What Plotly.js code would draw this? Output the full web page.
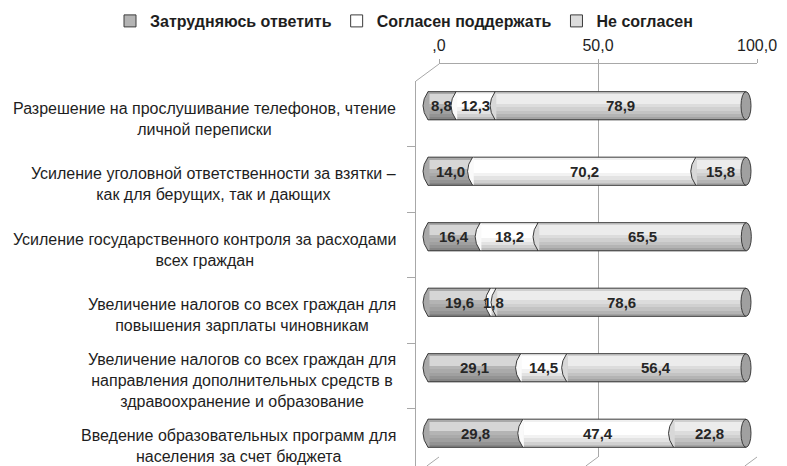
<!DOCTYPE html>
<html>
<head>
<meta charset="utf-8">
<script src="https://cdn.plot.ly/plotly-3.0.1.min.js"></script>
<style>html,body{margin:0;padding:0;background:#fff;}#chart{width:787px;height:466px;}</style>
</head>
<body>
<div id="chart"></div>
<script>
// ---- data (top row first) ----
var categories = [
  "Разрешение на прослушивание телефонов, чтение<br>личной переписки",
  "Усиление уголовной ответственности за взятки –<br>как для берущих, так и дающих",
  "Усиление государственного контроля за расходами<br>всех граждан",
  "Увеличение налогов со всех граждан для<br>повышения зарплаты чиновникам",
  "Увеличение налогов со всех граждан для<br>направления дополнительных средств в<br>здравоохранение и образование",
  "Введение образовательных программ для<br>населения за счет бюджета"
];
var seriesNames = ["Затрудняюсь ответить", "Согласен поддержать", "Не согласен"];
var hard    = [8.8, 14.0, 16.4, 19.6, 29.1, 29.8];
var agree   = [12.3, 70.2, 18.2, 1.8, 14.5, 47.4];
var disagree= [78.9, 15.8, 65.5, 78.6, 56.4, 22.8];
var tickVals = [0, 50, 100];
var tickText = [",0", "50,0", "100,0"];

// ---- style ----
var W = 787, H = 466;
var colors = ["#b4b4b4", "#ffffff", "#dcdcdc"];
var edge = "#3c3c3c";
var wallColor = "#a8a8a8";
var font = "Liberation Sans, Arial, sans-serif";
var barW = 0.43, halfPx = 14;
var bar0 = 428, bar100 = 746, pad = 2;
var ppu = (bar100 - bar0) / 100;

var series = [hard, agree, disagree];
var idx = categories.map(function(_, i){ return i; });
function fmt(v){ return v.toFixed(1).replace(".", ","); }

var traces = [];
var bases = categories.map(function(){ return 0; });
var baseList = [];
series.forEach(function(vals, s){
  var b = bases.slice();
  baseList.push(b);
  traces.push({
    type: "bar", orientation: "h", name: seriesNames[s],
    x: vals, y: idx, base: b, width: barW,
    xaxis: "x2", yaxis: "y2",
    marker: {color: colors[s], line: {color: edge, width: 1}},
    hoverinfo: "skip", showlegend: true
  });
  bases = bases.map(function(v, i){ return v + vals[i]; });
});
var totals = bases;

// cylinder shading bands (fractions of bar height from top, colour)
var bands = [
  [0.00, 0.10, "rgba(0,0,0,0.06)"],
  [0.10, 0.42, "rgba(255,255,255,0.45)"],
  [0.55, 0.68, "rgba(0,0,0,0.05)"],
  [0.68, 0.80, "rgba(0,0,0,0.11)"],
  [0.80, 0.90, "rgba(0,0,0,0.18)"],
  [0.90, 1.00, "rgba(0,0,0,0.26)"]
];
bands.forEach(function(bd){
  traces.push({
    type: "bar", orientation: "h", x: totals, y: idx,
    base: totals.map(function(){ return 0; }),
    width: barW * (bd[1] - bd[0]), offset: -barW / 2 + barW * bd[0],
    xaxis: "x2", yaxis: "y2",
    marker: {color: bd[2], line: {width: 0}},
    hoverinfo: "skip", showlegend: false
  });
});

// carriers for the back wall axis and the front left axis
traces.push({type: "scatter", mode: "markers", x: tickVals, y: tickVals.map(function(){ return 0.5; }),
  xaxis: "x", yaxis: "y", marker: {opacity: 0, size: 1}, hoverinfo: "skip", showlegend: false});
traces.push({type: "scatter", mode: "markers", x: [0.5], y: [1], xaxis: "x3", yaxis: "y3",
  marker: {opacity: 0, size: 1}, hoverinfo: "skip", showlegend: false});

// ---- shapes: cylinder ends, separators, 3D frame ----
var shapes = [];
function px(x){ return x / W; }
function py(y){ return 1 - y / H; }
idx.forEach(function(i){
  shapes.push({type: "path", layer: "above", xref: "x2", yref: "y2",
    xsizemode: "pixel", ysizemode: "pixel", xanchor: 0, yanchor: i,
    path: "M 1.5," + (-halfPx + 0.6) + " L 0," + (-halfPx + 0.6) + " Q -10,0 0," + (halfPx - 0.6) + " L 1.5," + (halfPx - 0.6) + " Z",
    fillcolor: "#a9a9a9", line: {width: 0}});
  shapes.push({type: "path", layer: "above", xref: "x2", yref: "y2",
    xsizemode: "pixel", ysizemode: "pixel", xanchor: 0, yanchor: i,
    path: "M 0," + (-halfPx) + " Q -10,0 0," + halfPx,
    line: {color: edge, width: 1}});
  [1, 2].forEach(function(s){
    var xb = baseList[s][i];
    shapes.push({type: "path", layer: "above", xref: "x2", yref: "y2",
      xsizemode: "pixel", ysizemode: "pixel", xanchor: xb, yanchor: i,
      path: "M 1.2," + (-halfPx + 0.6) + " L 0," + (-halfPx + 0.6) + " Q -10,0 0," + (halfPx - 0.6) + " L 1.2," + (halfPx - 0.6) + " Z",
      fillcolor: s === 1 ? "#fafafa" : "#d8d8d8", line: {width: 0}});
    shapes.push({type: "path", layer: "above", xref: "x2", yref: "y2",
      xsizemode: "pixel", ysizemode: "pixel", xanchor: xb, yanchor: i,
      path: "M 0," + (-halfPx) + " Q -10,0 0," + halfPx,
      line: {color: edge, width: 1}});
  });
  shapes.push({type: "circle", layer: "above", xref: "x2", yref: "y2",
    xsizemode: "pixel", ysizemode: "pixel", xanchor: totals[i], yanchor: i,
    x0: -5, x1: 5, y0: -halfPx, y1: halfPx,
    fillcolor: "#a0a0a0", line: {color: edge, width: 1}});
});
var wallL = 439, wallR = 757, wallT = 64, wallB = 457, frontL = 416;
var dx = frontL - wallL, dy = 17;
shapes.push({type: "line", xref: "paper", yref: "paper", layer: "below",
  x0: px(wallL), y0: py(wallT), x1: px(frontL), y1: py(wallT + dy),
  line: {color: wallColor, width: 1}});
tickVals.forEach(function(v){
  var gx = wallL + (wallR - wallL) * v / 100;
  var t = (H - wallB) / dy;
  shapes.push({type: "line", xref: "paper", yref: "paper", layer: "below",
    x0: px(gx), y0: py(wallB), x1: px(gx + dx * t), y1: py(H),
    line: {color: wallColor, width: 1}});
});

// category labels
var annotations = categories.map(function(c, i){
  return {xref: "paper", yref: "y2", x: px(398), y: i, xanchor: "right", yanchor: "middle",
    align: "center", text: c, showarrow: false, yshift: -13,
    font: {family: font, size: 16, color: "#1e1e1e"}};
});
// value labels, centred in each segment
series.forEach(function(vals, s){
  vals.forEach(function(v, i){
    annotations.push({xref: "x2", yref: "y2", x: baseList[s][i] + v / 2, y: i,
      xanchor: "center", yanchor: "middle", text: fmt(v), showarrow: false,
      font: {family: font, size: 15, color: "#262626", weight: "bold"}});
  });
});

var frontTop = wallT + dy;
var layout = {
  width: W, height: H, margin: {l: 0, r: 0, t: 0, b: 0},
  paper_bgcolor: "#fff", plot_bgcolor: "rgba(0,0,0,0)",
  separators: ", ", barmode: "overlay", bargap: 0,
  font: {family: font, size: 16, color: "#1e1e1e"},
  showlegend: true,
  legend: {orientation: "h", x: px(404), xanchor: "center", y: py(4), yanchor: "top",
    font: {family: font, size: 16, color: "#1e1e1e", weight: "bold"},
    itemwidth: 30, tracegroupgap: 0, bgcolor: "rgba(0,0,0,0)"},
  xaxis: {domain: [px(wallL), px(wallR)], range: [0, 100], side: "top", anchor: "y",
    tickmode: "array", tickvals: tickVals, ticktext: tickText,
    showgrid: true, gridcolor: wallColor, gridwidth: 1, zeroline: false,
    showline: true, linecolor: wallColor, linewidth: 1,
    ticks: "outside", ticklen: 4, tickcolor: wallColor, ticklabelstandoff: 2,
    tickfont: {family: font, size: 16, color: "#1e1e1e"}, fixedrange: true},
  yaxis: {domain: [py(wallB), py(wallT)], range: [0, 1], anchor: "x",
    showgrid: false, zeroline: false, showticklabels: false, showline: false, fixedrange: true},
  xaxis2: {domain: [px(bar0 - pad * ppu), px(bar100 + pad * ppu)], range: [-pad, 100 + pad],
    anchor: "y2", visible: false, fixedrange: true},
  yaxis2: {domain: [0, py(73)], range: [5.5, -0.5], anchor: "x2", visible: false, fixedrange: true},
  xaxis3: {domain: [px(frontL), px(frontL + 4)], range: [0, 1], anchor: "y3", visible: false, fixedrange: true},
  yaxis3: {domain: [0, py(frontTop)], range: [6 * (H - frontTop) / 393, 0], anchor: "x3",
    showline: true, linecolor: wallColor, linewidth: 1, ticks: "outside", ticklen: 8, tickcolor: wallColor,
    tickmode: "array", tickvals: [1, 2, 3, 4, 5], showticklabels: false,
    showgrid: false, zeroline: false, fixedrange: true},
  shapes: shapes,
  annotations: annotations
};

Plotly.newPlot("chart", traces, layout, {displayModeBar: false, staticPlot: true});
</script>
</body>
</html>
